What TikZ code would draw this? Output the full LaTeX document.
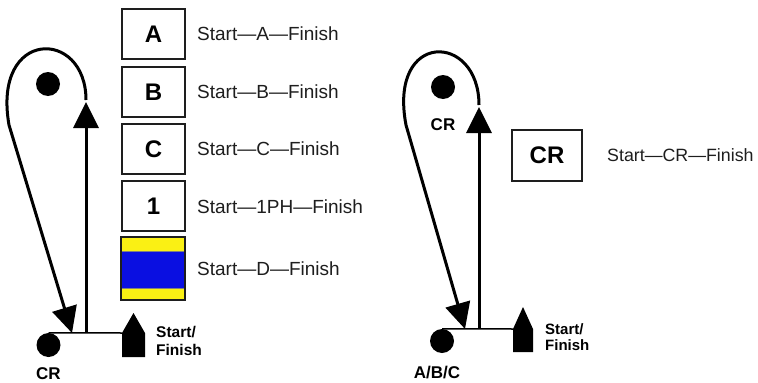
\documentclass[tikz,border=0pt]{standalone}
\usepackage{fontspec}
\setmainfont{Liberation Sans}
\usetikzlibrary{arrows.meta}
\definecolor{dyellow}{RGB}{250,240,20}
\definecolor{dblue}{RGB}{10,15,225}
\definecolor{ink}{RGB}{30,30,30}
\begin{document}
\begin{tikzpicture}[x=1pt,y=-1pt,
  lbl/.style={font=\fontsize{19}{21}\selectfont, text=ink, anchor=west, inner sep=0pt},
  letterbox/.style={draw=ink, line width=1.7pt, minimum width=63pt, minimum height=50pt, inner sep=0pt, font=\fontsize{24}{26}\selectfont\bfseries},
  dotmark/.style={circle, fill=black, minimum size=24pt, inner sep=0pt},
  blabel/.style={font=\fontsize{17}{18}\selectfont\bfseries, inner sep=0pt},
  sflabel/.style={align=left, anchor=west, inner sep=0pt},
  flow/.style={line width=3pt, -{Triangle[length=26pt,width=25pt]}},
  baseln/.style={line width=1.5pt},
  house/.style={fill=black}
]
\useasboundingbox[fill=white] (0,0) rectangle (758,383);

% ---------- left diagram ----------
\node[dotmark] (Ltopdot) at (48,84) {};
\node[dotmark] (Ldot) at (48.5,345) {};
\node[blabel] (LCR) at (48.5,374) {CR};
\coordinate (Lup) at (86,333);
\coordinate (Ltip) at (86,102);
\coordinate (Lloop) at (86,100);
\coordinate (Ldown) at (72,333);
\coordinate (Lhouse) at (122,333);
\draw[baseln] (Ldot.north) -- (Lhouse);
\draw[flow] (Lup) -- (Ltip);
\draw[flow] (Lloop) .. controls (86,28) and (-8,28) .. (9,125) -- (Ldown);
\fill[house] (133.5,313) -- (145,333) -- (145,357) -- (122,357) -- (Lhouse) -- cycle;
\node[sflabel, font=\fontsize{15.5}{18}\selectfont\bfseries] (LSF) at (156,341) {Start/\\Finish};

% ---------- letter boxes ----------
\node[letterbox] (A) at (153.5,34) {A};
\node[letterbox] (B) at (153.5,92) {B};
\node[letterbox] (C) at (153.5,149) {C};
\node[letterbox] (One) at (153.5,206) {1};
\node[draw=ink, line width=1.7pt, fill=dyellow, minimum width=64pt, minimum height=63pt, inner sep=0pt,
  path picture={\filldraw[fill=dblue, draw=gray, line width=0.8pt]
    ([yshift=-14pt,xshift=-2pt]path picture bounding box.north west) rectangle
    ([yshift=12pt,xshift=2pt]path picture bounding box.south east);}] (D) at (153,268.5) {};

\node[lbl] (tA) at (197,34) {Start—A—Finish};
\node[lbl] (tB) at (197,92) {Start—B—Finish};
\node[lbl] (tC) at (197,149) {Start—C—Finish};
\node[lbl] (t1) at (197,207) {Start—1PH—Finish};
\node[lbl] (tD) at (197,269) {Start—D—Finish};

% ---------- right diagram ----------
\node[dotmark] (Rtopdot) at (443,87) {};
\node[blabel] (RCR) at (443,125) {CR};
\node[dotmark] (Rdot) at (442,341) {};
\node[blabel] (RABC) at (437,373) {A/B/C};
\coordinate (Rup) at (479,329);
\coordinate (Rtip) at (479,107);
\coordinate (Rloop) at (479,105);
\coordinate (Rdown) at (465,329);
\coordinate (Rhouse) at (513,329);
\draw[baseln] (Rdot.north) -- (Rhouse);
\draw[flow] (Rup) -- (Rtip);
\draw[flow] (Rloop) .. controls (479,32) and (388,30) .. (406,125) -- (Rdown);
\fill[house] (523,307) -- (533,329) -- (533,352) -- (513,352) -- (Rhouse) -- cycle;
\node[sflabel, font=\fontsize{15}{16}\selectfont\bfseries] (RSF) at (545,337.5) {Start/\\Finish};

\node[letterbox, minimum width=70pt, minimum height=51pt] (CRbox) at (547,155.5) {CR};
\node[lbl, font=\fontsize{17.8}{20}\selectfont] (tCR) at (607,155) {Start—CR—Finish};
\end{tikzpicture}
\end{document}
